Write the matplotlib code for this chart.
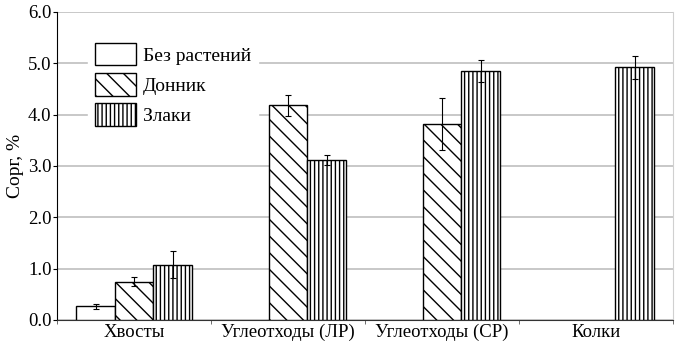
import matplotlib
matplotlib.use("Agg")
import matplotlib.pyplot as plt
import numpy as np

categories = ["Хвосты", "Углеотходы (ЛР)", "Углеотходы (СР)", "Колки"]
series_names = ["Без растений", "Донник", "Злаки"]
bez = [0.27, 0.0, 0.0, 0.0]
bez_err = [0.05, 0.0, 0.0, 0.0]
donnik = [0.75, 4.18, 3.82, 0.0]
donnik_err = [0.08, 0.20, 0.50, 0.0]
zlaki = [1.08, 3.11, 4.85, 4.92]
zlaki_err = [0.27, 0.10, 0.22, 0.22]
yticks = [0, 1, 2, 3, 4, 5, 6]
ytick_labels = ["0.0", "1.0", "2.0", "3.0", "4.0", "5.0", "6.0"]

plt.rcParams['font.family'] = ['Liberation Serif', 'DejaVu Serif']
plt.rcParams['hatch.linewidth'] = 1.0
plt.rcParams['hatch.color'] = 'black'

fig = plt.figure(figsize=(6.81, 3.48), dpi=100)
ax = fig.add_axes([57/681, 1-320/348, 616/681, 308/348])

x = np.arange(len(categories))
w = 0.25
series = [(bez, bez_err, ''), (donnik, donnik_err, '\\\\'), (zlaki, zlaki_err, '||||')]
handles = []
for i, (vals, errs, hatch) in enumerate(series):
    pos = x + (i - 1) * w
    vals = np.array(vals)
    errs = np.array(errs)
    mask = vals > 0
    b = ax.bar(pos[mask], vals[mask], width=w, color='white', edgecolor='black',
               linewidth=1.0, hatch=hatch, label=series_names[i], zorder=3)
    ax.errorbar(pos[mask], vals[mask], yerr=errs[mask], fmt='none', ecolor='black',
                elinewidth=0.8, capsize=2, capthick=0.8, zorder=4)
    handles.append(b)

ax.set_xlim(-0.5, len(categories) - 0.5)
ax.set_ylim(0, 6)
ax.set_yticks(yticks)
ax.set_yticklabels(ytick_labels, fontsize=13.5)
ax.set_xticks(x)
ax.set_xticklabels(categories, fontsize=13.5)
ax.set_xticks(np.arange(len(categories) + 1) - 0.5, minor=True)
ax.tick_params(axis='x', which='major', length=0, pad=3)
ax.tick_params(axis='x', which='minor', length=3, color='#555555', direction='out')
ax.tick_params(axis='y', length=3, direction='out', pad=1)
ax.yaxis.grid(True, color='#c4c4c4', linewidth=1.3, zorder=0)
ax.set_axisbelow(True)
ax.spines['top'].set_visible(False)
ax.spines['right'].set_color('#d0d0d0')
ax.spines['left'].set_color('black')
ax.spines['bottom'].set_color('#333333')
ax.set_ylabel("Сорг, %", fontsize=14, labelpad=3)

leg = ax.legend(handles=handles, loc='upper left', bbox_to_anchor=(0.0503, 0.922),
                borderaxespad=0, borderpad=0.35, frameon=True, fontsize=14,
                handlelength=2.11, handleheight=1.4, labelspacing=0.4,
                handletextpad=0.36, fancybox=False)
leg.get_frame().set_edgecolor('white')
leg.get_frame().set_facecolor('white')
leg.get_frame().set_alpha(1)

fig.savefig("out.png", dpi=100)
